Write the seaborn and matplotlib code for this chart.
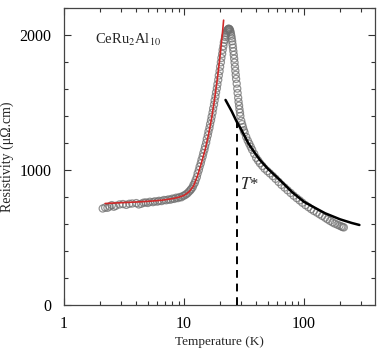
import matplotlib
matplotlib.use("Agg")
import matplotlib.pyplot as plt
import seaborn as sns
import pandas as pd
from matplotlib.ticker import LogLocator, FixedLocator, MultipleLocator, NullFormatter, FixedFormatter

temp_data = [2.1, 2.2, 2.3, 2.4, 2.5, 2.6, 2.7, 2.9, 3.1, 3.3, 3.5, 3.7, 4.0, 4.2,
             4.4, 4.6, 4.8, 5.0, 5.2, 5.5, 5.7, 6.0, 6.2, 6.5, 6.8, 7.1, 7.4, 7.7,
             8.0, 8.3, 8.6, 8.9, 9.2, 9.5, 9.8, 10.1, 10.4, 10.7, 11.0, 11.3,
             11.5, 11.8, 12.0, 12.3, 12.5, 12.8, 13.0, 13.3, 13.5, 13.8, 14.0,
             14.3, 14.5, 14.8, 15.0, 15.3, 15.5, 15.8, 16.0, 16.3, 16.5, 16.8,
             17.0, 17.3, 17.5, 17.8, 18.0, 18.3, 18.5, 18.8, 19.0, 19.3, 19.5,
             19.8, 20.0, 20.3, 20.5, 20.8, 21.0, 21.3, 21.5, 21.8, 22.0, 22.3,
             22.5, 22.8, 23.0, 23.2, 23.4, 23.6, 23.8, 24.0, 24.2, 24.4, 24.6,
             24.8, 25.0, 25.2, 25.4, 25.6, 25.8, 26.0, 26.2, 26.4, 26.6, 26.8,
             27.0, 27.2, 27.5, 27.8, 28.0, 28.3, 28.5, 28.8, 29.0, 29.3, 29.5,
             30.0, 30.5, 31.0, 31.5, 32.0, 33.0, 34.0, 35.0, 36.0, 37.0, 38.5,
             40.0, 41.5, 43.0, 45.0, 47.0, 49.5, 52.0, 55.0, 58.0, 61.5, 65.0,
             69.0, 73.0, 77.5, 82.0, 87.0, 92.0, 97.0, 103.0, 109.0, 115.0, 121.0,
             128.0, 135.0, 142.0, 150.0, 157.0, 165.0, 173.0, 181.0, 190.0, 198.0,
             205.0, 210.0, 215.0]
rho_data = [715, 722, 720, 730, 740, 728, 735, 745, 748, 742, 750, 752, 755, 745,
            750, 758, 760, 756, 765, 762, 768, 766, 772, 770, 778, 776, 782, 780,
            788, 786, 795, 792, 800, 798, 808, 812, 820, 828, 840, 850,
            860, 872, 890, 905, 925, 948, 975, 1000, 1025, 1050, 1075,
            1100, 1125, 1150, 1175, 1202, 1230, 1258, 1285, 1312, 1340, 1368,
            1395, 1425, 1455, 1485, 1515, 1545, 1575, 1605, 1635, 1668, 1700,
            1732, 1765, 1798, 1830, 1860, 1890, 1918, 1945, 1965, 1985, 2000,
            2015, 2026, 2035, 2040, 2045, 2047, 2045, 2042, 2035, 2024, 2010,
            1994, 1975, 1954, 1930, 1906, 1880, 1853, 1825, 1796, 1765, 1735,
            1705, 1675, 1640, 1603, 1570, 1535, 1505, 1477, 1450, 1425, 1400,
            1365, 1340, 1318, 1295, 1278, 1245, 1218, 1195, 1172, 1150, 1120,
            1090, 1070, 1050, 1030, 1010, 992, 975, 955, 935, 912, 890,
            870, 850, 830, 810, 792, 775, 758, 740, 725, 710, 697,
            685, 672, 660, 647, 635, 623, 612, 603, 595, 588,
            582, 578, 575]

# low temperature fit (red)
temp_fit_low = [2.2, 3.0, 4.0, 5.0, 6.5, 8.0, 9.0, 10.0, 11.0, 12.0, 13.0, 14.0,
                15.0, 16.0, 17.0, 18.0, 19.0, 20.0, 21.0, 21.4]
rho_fit_low = [752, 758, 763, 768, 776, 788, 798, 812, 838, 880, 960, 1055,
               1150, 1260, 1385, 1525, 1680, 1850, 2030, 2110]

# high temperature fit (black)
temp_fit_high = [22.2, 25.0, 27.5, 30.0, 34.4, 38.0, 43.0, 50.0, 63.0, 80.0,
                 100.0, 119.0, 150.0, 200.0, 250.0, 290.0]
rho_fit_high = [1519, 1435, 1358, 1300, 1198, 1140, 1074, 1010, 926, 835,
                765, 728, 680, 635, 608, 593]

t_star = 27.5
t_star_rho = 1360

sns.set_style("ticks")
plt.rcParams["font.family"] = ["Liberation Serif", "DejaVu Serif"]
plt.rcParams["mathtext.fontset"] = "stix"

fig = plt.figure(figsize=(3.79, 3.49), dpi=100)
ax = fig.add_axes([0.169, 0.126, 0.820, 0.851])

df_data = pd.DataFrame({"T": temp_data, "rho": rho_data})
df_low = pd.DataFrame({"T": temp_fit_low, "rho": rho_fit_low})
df_high = pd.DataFrame({"T": temp_fit_high, "rho": rho_fit_high})

sns.scatterplot(data=df_data, x="T", y="rho", ax=ax, marker="o", s=26,
                facecolor="none", edgecolor="#707070", linewidth=0.9, alpha=0.75, zorder=2)
sns.lineplot(data=df_low, x="T", y="rho", ax=ax, color="#d02828", linewidth=1.2, zorder=3)
sns.lineplot(data=df_high, x="T", y="rho", ax=ax, color="black", linewidth=1.8, zorder=3)
ax.plot([t_star, t_star], [0, t_star_rho], color="black", linestyle=(0, (4, 3)), linewidth=1.4, zorder=3)

ax.set_xscale("log")
ax.set_xlim(1, 390)
ax.set_ylim(0, 2200)

ax.xaxis.set_major_locator(FixedLocator([1, 10, 100]))
ax.xaxis.set_major_formatter(FixedFormatter(["1", "10", "100"]))
ax.xaxis.set_minor_locator(LogLocator(base=10, subs=range(2, 10)))
ax.xaxis.set_minor_formatter(NullFormatter())
ax.yaxis.set_major_locator(FixedLocator([0, 1000, 2000]))
ax.yaxis.set_minor_locator(MultipleLocator(200))

ax.tick_params(which="both", direction="in", top=True, right=True, colors="#333333",
               labelcolor="black", labelsize=11.5)
ax.tick_params(which="major", length=5, width=0.8)
ax.tick_params(which="minor", length=3, width=0.8)
ax.tick_params(axis="x", pad=8)
ax.tick_params(axis="y", pad=9)
for sp in ax.spines.values():
    sp.set_color("#444444")
    sp.set_linewidth(0.9)

ax.set_xlabel("Temperature (K)", fontsize=9.5, labelpad=3)
ax.set_ylabel("Resistivity (\u03bc\u03a9.cm)", fontsize=10, labelpad=4)

ax.text(1.8, 1960, "CeRu$_2$Al$_{10}$", fontsize=10.5, va="center", ha="left")
ax.text(29.5, 890, "$T$*", fontsize=12, va="center", ha="left")

fig.savefig("out.png", dpi=100)
